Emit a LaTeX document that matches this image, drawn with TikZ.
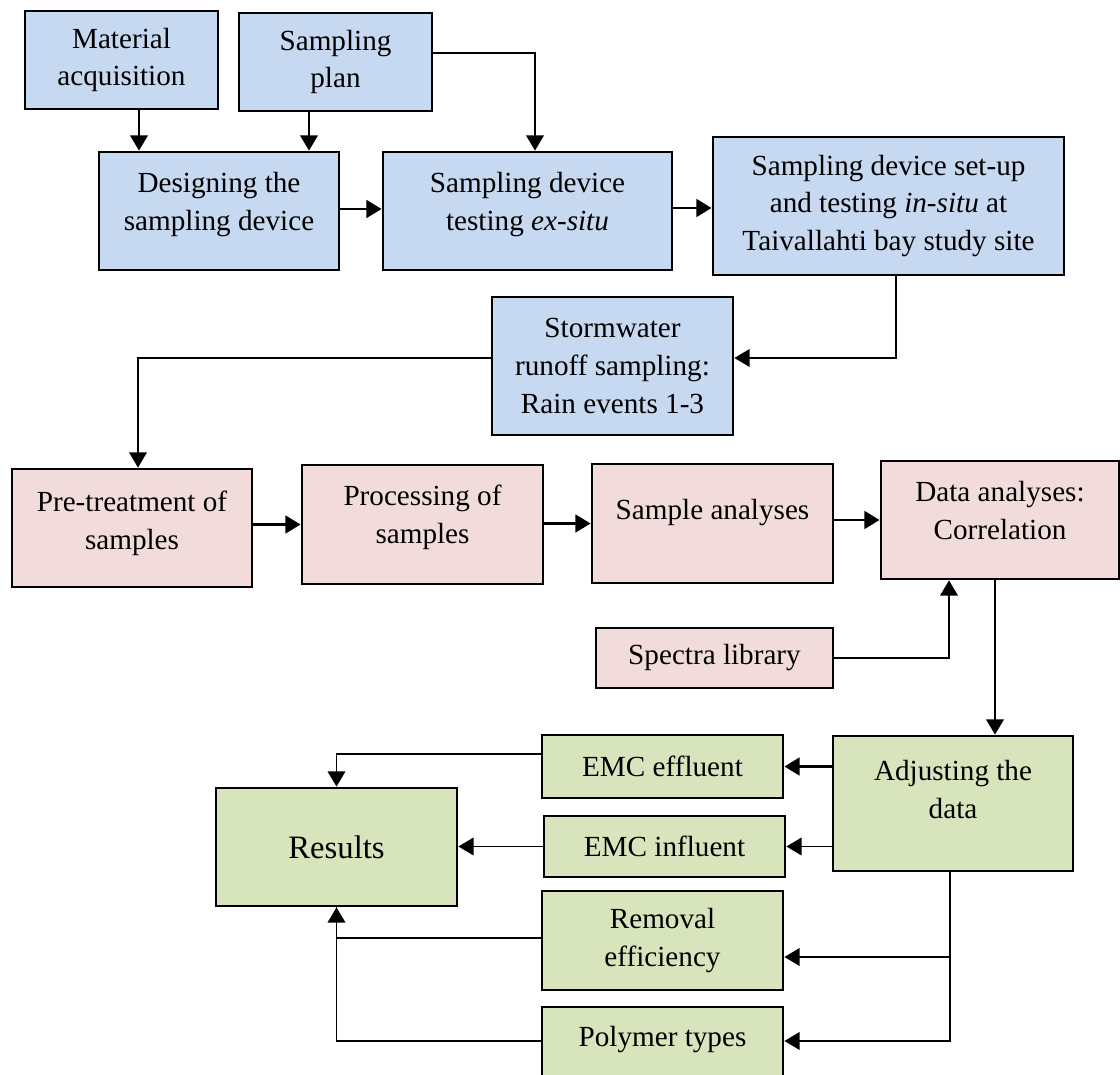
\documentclass[tikz,border=0pt]{standalone}
\usepackage{fontspec}
\setmainfont{Liberation Serif}
\usetikzlibrary{arrows.meta,calc,positioning}
\definecolor{StepBlue}{HTML}{C6D9F0}
\definecolor{StepPink}{HTML}{F2DCDB}
\definecolor{StepGreen}{HTML}{D7E4BC}
\definecolor{Ink}{HTML}{000000}

\begin{document}
\begin{tikzpicture}[x=1cm,y=1cm,>={Triangle[length=4.3pt,width=5pt]},
    every node/.style={font=\fontsize{8.3}{10.8}\selectfont,align=center},
    box/.style={draw=Ink,line width=0.8pt,rectangle,inner sep=1pt},
    bluebox/.style={box,fill=StepBlue},
    pinkbox/.style={box,fill=StepPink},
    greenbox/.style={box,fill=StepGreen},
    lift/.style={text depth=#1},
    arr/.style={->,draw=Ink,line width=0.45pt},
    arrb/.style={->,draw=Ink,line width=0.75pt},
    link/.style={draw=Ink,line width=0.45pt}]
    \useasboundingbox (0,0) rectangle (11.2,-10.75);
    \clip (0,0) rectangle (11.2,-10.75);

    % sampling device stage
    \node[bluebox,minimum width=1.93cm,minimum height=0.98cm] (mat) at (1.215,-0.60) {Material\\acquisition};
    \node[bluebox,minimum width=1.93cm,minimum height=0.98cm] (plan) at (3.355,-0.62) {Sampling\\plan};
    \node[bluebox,lift=5.2pt,minimum width=2.40cm,minimum height=1.18cm] (design) at (2.19,-2.11) {Designing the\\sampling device};
    \node[bluebox,lift=5.2pt,minimum width=2.89cm,minimum height=1.18cm] (exsitu) at (5.275,-2.11) {Sampling device\\testing \textit{ex-situ}};
    \node[bluebox,minimum width=3.51cm,minimum height=1.38cm] (insitu) at (8.885,-2.06)
      {Sampling device set-up\\and testing \textit{in-situ} at\\Taivallahti bay study site};
    \node[bluebox,minimum width=2.41cm,minimum height=1.38cm] (storm) at (6.125,-3.66)
      {Stormwater\\runoff sampling:\\Rain events 1-3};

    % laboratory stage
    \node[pinkbox,lift=4.6pt,minimum width=2.40cm,minimum height=1.18cm] (pretreat) at (1.32,-5.28) {Pre-treatment of\\samples};
    \node[pinkbox,lift=5.8pt,minimum width=2.41cm,minimum height=1.19cm] (process) at (4.225,-5.245) {Processing of\\samples};
    \node[pinkbox,lift=8pt,minimum width=2.41cm,minimum height=1.19cm] (analyses) at (7.125,-5.235) {Sample analyses};
    \node[pinkbox,lift=5.7pt,minimum width=2.38cm,minimum height=1.18cm] (dataan) at (10.00,-5.20) {Data analyses:\\Correlation};
    \node[pinkbox,minimum width=2.37cm,minimum height=0.60cm] (spectra) at (7.145,-6.58) {Spectra library};

    % results stage
    \node[greenbox,lift=8pt,minimum width=2.40cm,minimum height=1.35cm] (adjust) at (9.53,-8.035) {Adjusting the\\data};
    \node[greenbox,minimum width=2.41cm,minimum height=0.63cm] (effl) at (6.625,-7.665) {EMC effluent};
    \node[greenbox,minimum width=2.41cm,minimum height=0.61cm] (infl) at (6.645,-8.465) {EMC influent};
    \node[greenbox,minimum width=2.41cm,minimum height=0.99cm] (removal) at (6.625,-9.405) {Removal\\efficiency};
    \node[greenbox,lift=5.2pt,minimum width=2.41cm,minimum height=0.78cm] (polymer) at (6.625,-10.46) {Polymer types};
    \node[greenbox,minimum width=2.41cm,minimum height=1.18cm,font=\fontsize{9.3}{11}\selectfont] (results) at (3.365,-8.47) {Results};

    % connectors
    \draw[arr] ([xshift=0.175cm]mat.south) -- ([xshift=0.175cm]mat.south |- design.north);
    \draw[arr] ([xshift=-0.265cm]plan.south) -- ([xshift=-0.265cm]plan.south |- design.north);
    \draw[arr] ([yshift=0.09cm]plan.east) -| ([xshift=0.075cm]exsitu.north);
    \draw[arrb] ([yshift=0.02cm]design.east) -- ([yshift=0.02cm]exsitu.west);
    \draw[arrb] ([yshift=0.03cm]exsitu.east) -- ([yshift=0.03cm]exsitu.east -| insitu.west);
    \draw[arr] ([xshift=0.075cm]insitu.south) |- ([yshift=0.08cm]storm.east);
    \draw[arr] ([yshift=0.08cm]storm.west) -| ([xshift=0.06cm]pretreat.north);
    \draw[arrb] (pretreat.east |- process.west) -- (process.west);
    \draw[arrb] (process.east |- analyses.west) -- (analyses.west);
    \draw[arrb] (analyses.east |- dataan.west) -- (dataan.west);
    \draw[arr] (spectra.east) -| ([xshift=-0.51cm]dataan.south);
    \draw[arr] ([xshift=-0.05cm]dataan.south) -- ([xshift=-0.05cm]dataan.south |- adjust.north);
    \draw[arrb] (effl.east -| adjust.west) -- (effl.east);
    \draw[arr] (infl.east -| adjust.west) -- (infl.east);
    \draw[arr] ([xshift=-0.03cm]adjust.south) |- ([yshift=-0.165cm]removal.east);
    \draw[arr] ([xshift=-0.03cm]adjust.south) |- ([yshift=0.05cm]polymer.east);
    \draw[arr] ([yshift=0.125cm]effl.west) -| (results.north);
    \draw[arr] (infl.west) -- (infl.west -| results.east);
    \draw[link] ([yshift=0.025cm]removal.west) -| (results.south);
    \draw[arr] ([yshift=0.05cm]polymer.west) -| (results.south);
\end{tikzpicture}
\end{document}
